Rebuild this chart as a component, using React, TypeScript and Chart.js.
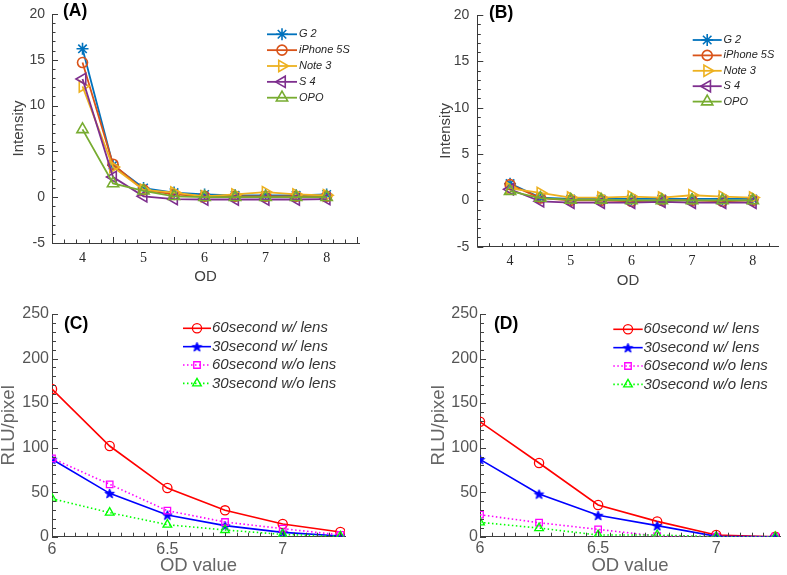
import React, { useEffect, useRef } from 'react';
import { Chart, registerables } from 'chart.js';
import { drawPoint } from 'chart.js/helpers';

Chart.register(...registerables);

// ---------- DATA ----------
const odPhones = [4, 4.5, 5, 5.5, 6, 6.5, 7, 7.5, 8];
const phoneNames = ['G 2', 'iPhone 5S', 'Note 3', 'S 4', 'OPO'];

// Panel A
const aG2 = [16.2, 3.5, 1.0, 0.5, 0.3, 0.2, 0.2, 0.2, 0.3];
const aIPhone = [14.7, 3.6, 0.8, 0.3, 0.1, 0.1, 0.1, 0.1, 0.1];
const aNote3 = [12.1, 3.3, 0.8, 0.5, 0.1, 0.3, 0.55, 0.3, 0.2];
const aS4 = [12.9, 2.2, 0.1, -0.2, -0.25, -0.25, -0.25, -0.25, -0.2];
const aOPO = [7.4, 1.5, 0.7, 0.1, 0.0, 0.0, 0.0, 0.0, 0.0];

// Panel B
const bG2 = [1.8, 0.3, 0.15, 0.15, 0.15, 0.15, 0.15, 0.15, 0.15];
const bIPhone = [1.7, 0.25, 0.0, 0.0, -0.1, 0.0, 0.0, -0.1, 0.0];
const bNote3 = [1.3, 0.8, 0.3, 0.3, 0.4, 0.3, 0.55, 0.4, 0.3];
const bS4 = [1.2, -0.1, -0.25, -0.25, -0.25, -0.15, -0.25, -0.25, -0.25];
const bOPO = [1.0, 0.25, 0.05, 0.05, 0.0, 0.0, 0.0, 0.0, 0.0];

const phoneXTicks = [4, 5, 6, 7, 8];
const phoneYTicks = [-5, 0, 5, 10, 15, 20];

// Panels C and D
const odLens = [6, 6.25, 6.5, 6.75, 7, 7.25];
const lensNames = ['60second w/ lens', '30second w/ lens', '60second w/o lens', '30second w/o lens'];

const c60Lens = [165.8, 101.8, 54.6, 29.6, 14.2, 5.2];
const c30Lens = [87.0, 48.7, 24.3, 12.4, 4.9, 0.7];
const c60NoLens = [88.0, 58.8, 29.2, 16.5, 9.0, 2.0];
const c30NoLens = [42.7, 27.0, 13.5, 7.5, 2.6, 0.4];

const d60Lens = [129.0, 82.7, 35.6, 17.2, 1.9, 0.0];
const d30Lens = [86.8, 47.9, 24.0, 12.4, 0.4, 0.0];
const d60NoLens = [24.7, 15.7, 8.2, 0.7, 0.0, 0.0];
const d30NoLens = [16.1, 9.7, 1.9, 1.9, 0.0, 0.0];

const lensXTicks = [6, 6.5, 7];
const lensYTicks = [0, 50, 100, 150, 200, 250];

// ---------- STYLES ----------
const SANS = "'Liberation Sans', Arial, sans-serif";
const SERIF = "'Liberation Serif', 'Times New Roman', serif";
const phoneColors = ['#0072BD', '#D95319', '#EDB120', '#7E2F8E', '#77AC30'];
const phoneStyles = ['star', 'circle', 'triangle', 'triangle', 'triangle'];
const phoneRot = [0, 0, 90, -90, 0];
const phoneRad = [6, 5, 6.5, 6.5, 6.5];

const lensColors = ['#FF0000', '#0000FF', '#FF00FF', '#00FF00'];
const lensDash = [[], [], [1.5, 2.5], [1.5, 2.5]];

function makePentagram(color: string, r: number) {
  const c = document.createElement('canvas');
  const s = Math.ceil(r * 2 + 3);
  c.width = s;
  c.height = s;
  const g = c.getContext('2d')!;
  g.fillStyle = color;
  g.strokeStyle = color;
  g.lineWidth = 1;
  g.beginPath();
  for (let i = 0; i < 10; i++) {
    const ang = -Math.PI / 2 + (i * Math.PI) / 5;
    const rr = i % 2 === 0 ? r : r * 0.42;
    const px = s / 2 + rr * Math.cos(ang);
    const py = s / 2 + rr * Math.sin(ang) + 0.5;
    if (i === 0) g.moveTo(px, py);
    else g.lineTo(px, py);
  }
  g.closePath();
  g.fill();
  g.stroke();
  return c;
}

// ---------- PLUGINS ----------
const inTicks = {
  id: 'inTicks',
  afterDatasetsDraw(chart: any, _a: any, o: any) {
    if (!o || !o.color) return;
    const { ctx, chartArea } = chart;
    const xs = chart.scales.x;
    const ys = chart.scales.y;
    ctx.save();
    ctx.strokeStyle = o.color;
    ctx.lineWidth = 1;
    ctx.beginPath();
    let i = 0;
    while (true) {
      const v = o.xStart + i * o.xStep;
      if (v > xs.max + 1e-9) break;
      const px = Math.round(xs.getPixelForValue(v)) + 0.5;
      const len = i % o.xMajorEvery === 0 ? o.majorLen : o.minorLen;
      ctx.moveTo(px, chartArea.bottom);
      ctx.lineTo(px, chartArea.bottom - len);
      i++;
    }
    i = 0;
    while (true) {
      const v = o.yStart + i * o.yStep;
      if (v > ys.max + 1e-9) break;
      const py = Math.round(ys.getPixelForValue(v)) + 0.5;
      const len = i % o.yMajorEvery === 0 ? o.majorLen : o.minorLen;
      ctx.moveTo(chartArea.left, py);
      ctx.lineTo(chartArea.left + len, py);
      i++;
    }
    ctx.stroke();
    ctx.restore();
  },
};

const decor = {
  id: 'decor',
  afterDraw(chart: any, _a: any, o: any) {
    if (!o) return;
    const ctx = chart.ctx;
    ctx.save();
    if (o.label) {
      ctx.fillStyle = '#000';
      ctx.font = `bold 17.5px ${SANS}`;
      ctx.textAlign = 'left';
      ctx.textBaseline = 'middle';
      ctx.fillText(o.label.text, o.label.x, o.label.y);
    }
    const lg = o.legend;
    if (lg) {
      lg.items.forEach((it: any, k: number) => {
        const y = lg.y + k * lg.dy;
        ctx.strokeStyle = it.color;
        ctx.lineWidth = it.lineWidth;
        ctx.setLineDash(it.dash);
        ctx.beginPath();
        ctx.moveTo(lg.x1, y);
        ctx.lineTo(lg.x2, y);
        ctx.stroke();
        ctx.setLineDash([]);
        ctx.fillStyle = 'rgba(0,0,0,0)';
        ctx.strokeStyle = it.color;
        ctx.lineWidth = it.markerWidth;
        drawPoint(
          ctx,
          { pointStyle: it.style, rotation: it.rotation, radius: it.radius, borderWidth: it.markerWidth } as any,
          (lg.x1 + lg.x2) / 2,
          y
        );
        ctx.fillStyle = lg.textColor;
        ctx.font = lg.font;
        ctx.textAlign = 'left';
        ctx.textBaseline = 'middle';
        ctx.fillText(it.label, lg.tx, y);
      });
    }
    ctx.restore();
  },
};

// ---------- CONFIG BUILDERS ----------
function xyData(xs: number[], ys: number[]) {
  return xs.map((x, i) => ({ x, y: ys[i] }));
}

function scaleX(p: any) {
  return {
    type: 'linear',
    position: 'bottom',
    min: p.min,
    max: p.max,
    afterBuildTicks: (s: any) => {
      s.ticks = p.ticks.map((v: number) => ({ value: v }));
    },
    afterFit: (s: any) => {
      s.height = p.size;
    },
    grid: { display: false, drawTicks: false },
    border: { display: true, color: p.axisColor, width: 1 },
    ticks: {
      font: p.tickFont, color: p.tickColor, padding: p.tickPad, maxRotation: 0, autoSkip: false,
      callback: (v: number) => String(v),
    },
    title: {
      display: true,
      text: p.title,
      font: p.titleFont,
      color: p.titleColor,
      padding: { top: 0, bottom: p.titlePad },
    },
  };
}

function scaleY(p: any) {
  return {
    type: 'linear',
    position: 'left',
    min: p.min,
    max: p.max,
    afterBuildTicks: (s: any) => {
      s.ticks = p.ticks.map((v: number) => ({ value: v }));
    },
    afterFit: (s: any) => {
      s.width = p.size;
    },
    grid: { display: false, drawTicks: false },
    border: { display: true, color: p.axisColor, width: 1 },
    ticks: {
      font: p.tickFont, color: p.tickColor, padding: p.tickPad, autoSkip: false,
      callback: (v: number) => String(v),
    },
    title: {
      display: true,
      text: p.title,
      font: p.titleFont,
      color: p.titleColor,
      padding: { top: p.titlePad, bottom: 0 },
    },
  };
}

function phoneConfig(series: number[][], g: any) {
  const datasets = series.map((ys, i) => ({
    label: phoneNames[i],
    data: xyData(odPhones, ys),
    borderColor: phoneColors[i],
    backgroundColor: phoneColors[i],
    borderWidth: 1.8,
    pointStyle: phoneStyles[i],
    pointRotation: phoneRot[i],
    pointRadius: phoneRad[i],
    pointBorderColor: phoneColors[i],
    pointBackgroundColor: 'rgba(0,0,0,0)',
    pointBorderWidth: 1.6,
    tension: 0,
    order: series.length - i,
  }));
  const axisColor = '#3a3a3a';
  return {
    type: 'line',
    data: { datasets },
    options: {
      animation: false,
      responsive: false,
      events: [],
      layout: { padding: g.padding },
      scales: {
        x: scaleX({
          min: g.xMin, max: g.xMax, ticks: phoneXTicks, size: g.xSize, axisColor,
          tickFont: { family: SERIF, size: 14, lineHeight: 1 }, tickColor: '#262626', tickPad: g.xTickPad,
          title: 'OD', titleFont: { family: SANS, size: 15, lineHeight: 1 }, titleColor: '#404040', titlePad: g.xTitlePad,
        }),
        y: scaleY({
          min: -5, max: 20, ticks: phoneYTicks, size: g.ySize, axisColor,
          tickFont: { family: SANS, size: 14, lineHeight: 1 }, tickColor: '#404040', tickPad: g.yTickPad,
          title: 'Intensity', titleFont: { family: SANS, size: 15, lineHeight: 1 }, titleColor: '#404040', titlePad: g.yTitlePad,
        }),
      },
      plugins: {
        legend: { display: false },
        tooltip: { enabled: false },
        inTicks: {
          color: axisColor, xStart: g.xMin, xStep: 0.2, xMajorEvery: 5,
          yStart: -5, yStep: 1, yMajorEvery: 5, majorLen: 6, minorLen: 3.5,
        },
        decor: {
          label: g.label,
          legend: {
            x1: g.lx1, x2: g.lx2, tx: g.ltx, y: g.ly, dy: g.ldy,
            font: `italic 11px ${SANS}`, textColor: '#262626',
            items: phoneNames.map((n, i) => ({
              label: n, color: phoneColors[i], lineWidth: 1.8, dash: [],
              style: phoneStyles[i], rotation: phoneRot[i], radius: phoneRad[i], markerWidth: 1.6,
            })),
          },
        },
      },
    },
    plugins: [inTicks, decor],
  };
}

function lensConfig(series: number[][], g: any, star: any) {
  const styles = ['circle', star, 'rect', 'triangle'];
  const radii = [4.6, 5, 4.6, 5];
  const datasets = series.map((ys, i) => ({
    label: lensNames[i],
    data: xyData(odLens, ys),
    borderColor: lensColors[i],
    backgroundColor: lensColors[i],
    borderWidth: 1.6,
    borderDash: lensDash[i],
    pointStyle: styles[i],
    pointRadius: radii[i],
    pointBorderColor: lensColors[i],
    pointBackgroundColor: 'rgba(0,0,0,0)',
    pointBorderWidth: 1.3,
    tension: 0,
    order: series.length - i,
  }));
  const axisColor = '#404040';
  return {
    type: 'line',
    data: { datasets },
    options: {
      animation: false,
      responsive: false,
      events: [],
      layout: { padding: g.padding },
      scales: {
        x: scaleX({
          min: 6, max: 7.27, ticks: lensXTicks, size: g.xSize, axisColor,
          tickFont: { family: SANS, size: 16, lineHeight: 1 }, tickColor: '#555555', tickPad: g.xTickPad,
          title: 'OD value', titleFont: { family: SANS, size: 18.5, lineHeight: 1 }, titleColor: '#666666', titlePad: 0,
        }),
        y: scaleY({
          min: 0, max: 250, ticks: lensYTicks, size: g.ySize, axisColor,
          tickFont: { family: SANS, size: 16, lineHeight: 1 }, tickColor: '#555555', tickPad: g.yTickPad,
          title: 'RLU/pixel', titleFont: { family: SANS, size: 18.5, lineHeight: 1 }, titleColor: '#666666', titlePad: g.yTitlePad,
        }),
      },
      plugins: {
        legend: { display: false },
        tooltip: { enabled: false },
        inTicks: {
          color: axisColor, xStart: 6, xStep: 0.05, xMajorEvery: 10,
          yStart: 0, yStep: 10, yMajorEvery: 5, majorLen: 6, minorLen: 4,
        },
        decor: {
          label: g.label,
          legend: {
            x1: g.lx1, x2: g.lx2, tx: g.ltx, y: g.ly, dy: g.ldy,
            font: `italic 15px ${SANS}`, textColor: '#333333',
            items: lensNames.map((n, i) => ({
              label: n, color: lensColors[i], lineWidth: 1.6, dash: lensDash[i],
              style: styles[i], rotation: 0, radius: radii[i], markerWidth: 1.3,
            })),
          },
        },
      },
    },
    plugins: [inTicks, decor],
  };
}

// ---------- COMPONENTS ----------
function Panel(props: { left: number; top: number; w: number; h: number; make: () => any }) {
  const ref = useRef<HTMLCanvasElement>(null);
  useEffect(() => {
    const chart = new Chart(ref.current as HTMLCanvasElement, props.make());
    return () => chart.destroy();
  }, []);
  return (
    <div style={{ position: 'absolute', left: props.left, top: props.top, width: props.w, height: props.h }}>
      <canvas ref={ref} width={props.w} height={props.h} style={{ display: 'block', width: props.w, height: props.h }} />
    </div>
  );
}

export default function App() {
  const makeA = () =>
    phoneConfig([aG2, aIPhone, aNote3, aS4, aOPO], {
      padding: { left: 0, top: 8, right: 34, bottom: 0 },
      xMin: 3.5, xMax: 8.53, xSize: 47, ySize: 52,
      xTickPad: 8, yTickPad: 7, xTitlePad: 5.5, yTitlePad: 11.5,
      label: { text: '(A)', x: 63, y: 11 },
      lx1: 267, lx2: 297, ltx: 299, ly: 34.3, ldy: 15.85,
    });
  const makeB = () =>
    phoneConfig([bG2, bIPhone, bNote3, bS4, bOPO], {
      padding: { left: 0, top: 11.7, right: 7, bottom: 0 },
      xMin: 3.46, xMax: 8.43, xSize: 43.3, ySize: 84.3,
      xTickPad: 8, yTickPad: 8, xTitlePad: 1.5, yTitlePad: 45.8,
      label: { text: '(B)', x: 96, y: 13 },
      lx1: 299.7, lx2: 328.7, ltx: 330.5, ly: 40, ldy: 15.4,
    });
  const makeC = () => {
    const star = makePentagram('#0000FF', 5);
    return lensConfig([c60Lens, c30Lens, c60NoLens, c30NoLens], {
      padding: { left: 0, top: 24, right: 48, bottom: 0 },
      xSize: 38.3, ySize: 52, xTickPad: 5, yTickPad: 3, yTitlePad: 0,
      label: { text: '(C)', x: 64, y: 34.5 },
      lx1: 183, lx2: 211, ltx: 212, ly: 38.3, ldy: 18.35,
    }, star);
  };
  const makeD = () => {
    const star = makePentagram('#0000FF', 5);
    return lensConfig([d60Lens, d30Lens, d60NoLens, d30NoLens], {
      padding: { left: 0, top: 24, right: 7, bottom: 0 },
      xSize: 38.3, ySize: 87, xTickPad: 3.5, yTickPad: 2, yTitlePad: 37,
      label: { text: '(D)', x: 101, y: 34.5 },
      lx1: 220.3, lx2: 249.7, ltx: 250.5, ly: 39.3, ldy: 18.35,
    }, star);
  };
  return (
    <div style={{ position: 'fixed', left: 0, top: 0, width: 787, height: 575, background: '#fff', overflow: 'hidden' }}>
      <Panel left={0} top={0} w={393} h={290} make={makeA} />
      <Panel left={393} top={0} w={394} h={290} make={makeB} />
      <Panel left={0} top={290} w={393} h={285} make={makeC} />
      <Panel left={393} top={290} w={394} h={285} make={makeD} />
    </div>
  );
}
